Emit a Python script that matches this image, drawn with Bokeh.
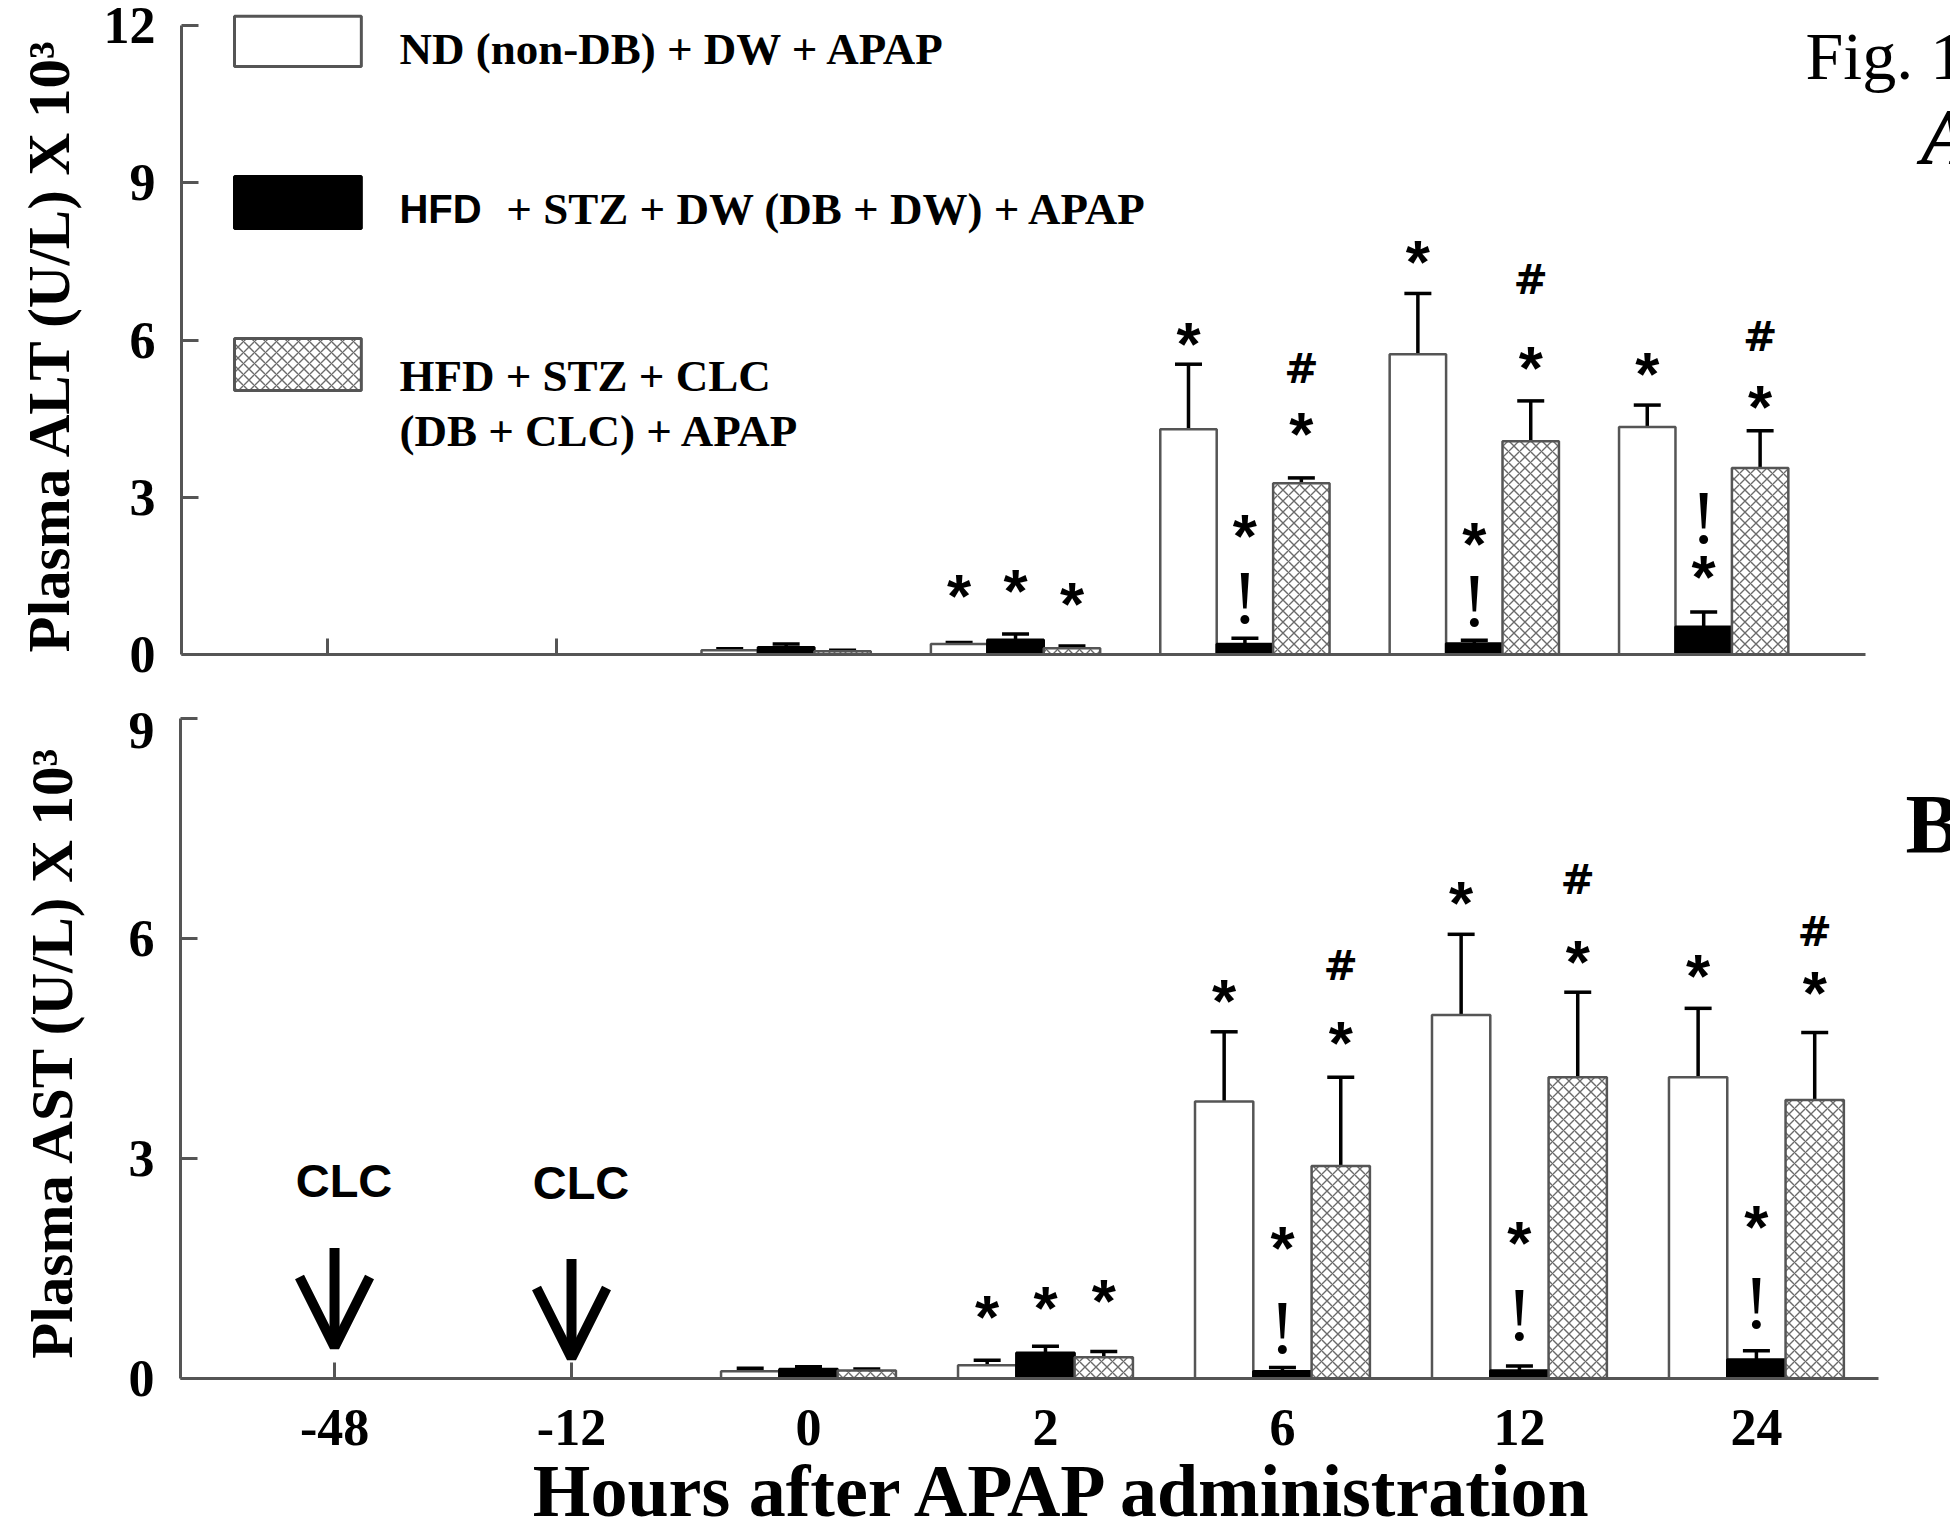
import math
from bokeh.plotting import figure
from bokeh.models import (FixedTicker, ColumnDataSource, Whisker, TeeHead, Arrow,
                          OpenHead, Range1d)
from bokeh.layouts import column, row
from bokeh.embed import file_html
from bokeh.resources import INLINE
from bokeh.core.properties import value

# ---------------- data ----------------
times = ["-48", "-12", "0", "2", "6", "12", "24"]
bar_times = ["0", "2", "6", "12", "24"]
group_labels = ["ND (non-DB) + DW + APAP",
                "HFD + STZ + DW (DB + DW) + APAP",
                "HFD + STZ + CLC (DB + CLC) + APAP"]

# Plasma ALT (U/L) x 10^3
alt_nd = [0.08, 0.20, 4.30, 5.73, 4.34]
alt_nd_err = [0.03, 0.03, 1.24, 1.16, 0.42]
alt_db = [0.14, 0.28, 0.20, 0.21, 0.53]
alt_db_err = [0.06, 0.11, 0.11, 0.06, 0.28]
alt_clc = [0.06, 0.12, 3.27, 4.07, 3.56]
alt_clc_err = [0.02, 0.04, 0.10, 0.77, 0.71]

# Plasma AST (U/L) x 10^3
ast_nd = [0.10, 0.18, 3.78, 4.96, 4.11]
ast_nd_err = [0.04, 0.07, 0.95, 1.10, 0.94]
ast_db = [0.13, 0.35, 0.10, 0.11, 0.26]
ast_db_err = [0.03, 0.09, 0.05, 0.06, 0.12]
ast_clc = [0.11, 0.29, 2.90, 4.11, 3.80]
ast_clc_err = [0.02, 0.08, 1.21, 1.16, 0.92]

# significance marks: time, group (0=ND,1=DB+DW,2=DB+CLC), symbol, height
alt_mark_time = ["2", "2", "2", "6", "6", "6", "6", "6",
                 "12", "12", "12", "12", "12", "24", "24", "24", "24", "24"]
alt_mark_group = [0, 1, 2, 0, 1, 1, 2, 2, 0, 1, 1, 2, 2, 0, 1, 1, 2, 2]
alt_mark_symbol = ["*", "*", "*", "*", "*", "!", "#", "*",
                   "*", "*", "!", "#", "*", "*", "!", "*", "#", "*"]
alt_mark_y = [1.27, 1.38, 1.13, 6.09, 2.43, 1.19, 5.48, 4.37,
              7.65, 2.27, 1.13, 7.18, 5.63, 5.52, 2.72, 1.64, 6.09, 4.89]

ast_mark_time = ["2", "2", "2", "6", "6", "6", "6", "6",
                 "12", "12", "12", "12", "12", "24", "24", "24", "24", "24"]
ast_mark_group = [0, 1, 2, 0, 1, 1, 2, 2, 0, 1, 1, 2, 2, 0, 1, 1, 2, 2]
ast_mark_symbol = ["*", "*", "*", "*", "*", "!", "#", "*",
                   "*", "*", "!", "#", "*", "*", "*", "!", "#", "*"]
ast_mark_y = [0.95, 1.08, 1.17, 5.26, 1.90, 0.77, 5.65, 4.69,
              6.60, 1.97, 0.95, 6.83, 5.80, 5.61, 2.18, 1.11, 6.12, 5.38]

clc_times = ["-48", "-12"]

# ---------------- styling ----------------
SERIF = "Liberation Serif"
SANS = "Liberation Sans"
AXIS_GRAY = "#555555"
BAR_W = 0.246
OFFSETS = [-BAR_W, 0.0, BAR_W]
TITLE_W = 100
PLOT_W = 1950 - TITLE_W

bar_styles = [
    dict(fill_color="white", line_color=AXIS_GRAY, line_width=2.5),
    dict(fill_color="black", line_color="black", line_width=2.5),
    dict(fill_color="white", line_color=AXIS_GRAY, line_width=2.5,
         hatch_pattern="x", hatch_color="#6a6a6a", hatch_scale=11, hatch_weight=1.4),
]

mark_styles = {
    "*": dict(font=SANS, style="bold", size="62px", yoff=8),
    "!": dict(font=SERIF, style="normal", size="76px", yoff=5),
    "#": dict(font="DejaVu Sans", style="bold", size="41px", yoff=2),
}


def make_panel(height, x_start, x_end, x_bound, y_end, y_top_tick, border_bottom, labelled):
    p = figure(width=PLOT_W, height=height, output_backend="svg", toolbar_location=None,
               x_range=Range1d(x_start, x_end), y_range=Range1d(0, y_end),
               min_border_left=180 - TITLE_W, min_border_right=0, min_border_top=0,
               min_border_bottom=border_bottom)
    p.outline_line_color = None
    p.grid.visible = False
    p.background_fill_color = "white"
    p.border_fill_color = "white"

    tick_idx = [times.index(t) for t in clc_times]
    major = list(range(len(times))) if labelled else []
    p.xaxis.ticker = FixedTicker(ticks=major, minor_ticks=tick_idx)
    if labelled:
        p.xaxis.major_label_overrides = {i: t for i, t in enumerate(times)}
    p.xaxis.bounds = (x_start, x_bound)
    p.yaxis.ticker = FixedTicker(ticks=list(range(0, y_top_tick + 1, 3)))
    p.yaxis.bounds = (0, y_top_tick)
    for ax in (p.xaxis, p.yaxis):
        ax.axis_line_color = AXIS_GRAY
        ax.axis_line_width = 3
        ax.major_tick_line_color = AXIS_GRAY
        ax.major_tick_line_width = 3
        ax.major_tick_out = 0
        ax.major_label_text_font = SERIF
        ax.major_label_text_font_style = "bold"
        ax.major_label_text_font_size = "52px"
        ax.major_label_text_color = "black"
        ax.axis_label_text_font = SERIF
        ax.axis_label_text_font_style = "bold"
        ax.axis_label_text_color = "black"
    # x: only the (minor) ticks at the empty -48 / -12 slots are visible
    p.xaxis.major_tick_line_color = None
    p.xaxis.major_tick_in = 0
    p.xaxis.minor_tick_line_color = AXIS_GRAY
    p.xaxis.minor_tick_line_width = 3
    p.xaxis.minor_tick_in = 16
    p.xaxis.minor_tick_out = 0
    p.yaxis.minor_tick_line_color = None
    p.yaxis.major_tick_in = 17
    p.yaxis.major_label_standoff = 26
    return p


def title_column(panel, x, y_start, text):
    """Narrow strip holding the rotated y-axis title. Its frame is aligned with the
    panel's frame, so it shares the panel's y range; the text reads upward from y_start."""
    t = figure(width=TITLE_W, height=panel.height, output_backend="svg",
               toolbar_location=None, x_range=Range1d(0, TITLE_W), y_range=panel.y_range,
               x_axis_type=None, y_axis_type=None,
               min_border_left=0, min_border_right=0, min_border_top=0,
               min_border_bottom=panel.min_border_bottom)
    t.outline_line_color = None
    t.grid.visible = False
    t.text(x=[x], y=[y_start], text=[text], angle=math.pi / 2,
           text_font=value(SERIF), text_font_style="bold", text_font_size="59px",
           text_align="left", text_baseline="middle", text_color="black")
    return t


def draw_bars(p, series, errors):
    for g, (vals, errs) in enumerate(zip(series, errors)):
        xs = [times.index(t) + OFFSETS[g] for t in bar_times]
        src = ColumnDataSource(dict(x=xs, top=vals,
                                    upper=[v + e for v, e in zip(vals, errs)],
                                    lower=[v - e for v, e in zip(vals, errs)]))
        p.vbar(x="x", top="top", bottom=0, width=BAR_W, source=src, **bar_styles[g])
        p.add_layout(Whisker(base="x", upper="upper", lower="lower", source=src,
                             dimension="height", line_color="black", line_width=3.5,
                             upper_head=TeeHead(size=27, line_width=3.5, line_color="black"),
                             lower_head=TeeHead(size=27, line_width=3.5, line_color="black")))


def draw_marks(p, m_time, m_group, m_symbol, m_y):
    for sym, st in mark_styles.items():
        idx = [i for i, s in enumerate(m_symbol) if s == sym]
        xs = [times.index(m_time[i]) + OFFSETS[m_group[i]] for i in idx]
        ys = [m_y[i] for i in idx]
        p.text(x=xs, y=ys, text=[sym] * len(idx), text_font=value(st["font"]),
               text_font_style=st["style"], text_font_size=st["size"],
               text_align="center", text_baseline="alphabetic", y_offset=st["yoff"],
               text_color="black")


# ---------------- panel A : ALT ----------------
HA = 712
pA = make_panel(HA, -0.636, 7.076, 6.706, 12.481, 12, 58, labelled=False)
draw_bars(pA, [alt_nd, alt_db, alt_clc], [alt_nd_err, alt_db_err, alt_clc_err])
draw_marks(pA, alt_mark_time, alt_mark_group, alt_mark_symbol, alt_mark_y)
tA = title_column(pA, 48, 0.04, "Plasma ALT (U/L) X 10\u00b3")

# legend (manual, as in the original figure)
leg_left, leg_right = -0.405, 0.148
leg_boxes = [(12.18, 11.22), (9.12, 8.13), (6.03, 5.04)]
for g, (top, bot) in enumerate(leg_boxes):
    sty = dict(bar_styles[g])
    sty["line_width"] = 3
    pA.quad(left=[leg_left], right=[leg_right], top=[top], bottom=[bot], **sty)
txt_x = 0.314
lt = dict(text_font=value(SERIF), text_font_style="bold", text_font_size="45px",
          text_align="left", text_baseline="middle", text_color="black")
pA.text(x=[txt_x], y=[11.56], text=[group_labels[0]], **lt)
pA.text(x=[txt_x], y=[8.51], text=["HFD"], text_font=value(SANS), text_font_style="bold",
        text_font_size="40px", text_align="left", text_baseline="middle", text_color="black")
pA.text(x=[0.780], y=[8.51], text=["+ STZ + DW (DB + DW) + APAP"], **lt)
pA.text(x=[txt_x, txt_x], y=[5.32, 4.26], text=["HFD + STZ + CLC", "(DB + CLC) + APAP"], **lt)

pA.text(x=[6.444], y=[11.43], text=["Fig. 1"], text_font=value(SERIF), text_font_size="68px",
        text_align="left", text_baseline="alphabetic", text_color="black")
pA.text(x=[6.946], y=[9.87], text=["A"], text_font=value(SERIF), text_font_style="bold italic",
        text_font_size="80px", text_align="left", text_baseline="alphabetic", text_color="black")

# ---------------- panel B : AST ----------------
HB = 1535 - HA
pB = make_panel(HB, -0.650, 6.819, 6.515, 9.086, 9, 157, labelled=True)
pB.xaxis.major_label_standoff = 31
pB.xaxis.axis_label = "Hours after APAP administration"
pB.xaxis.axis_label_text_font_size = "74px"
pB.xaxis.axis_label_standoff = 2
draw_bars(pB, [ast_nd, ast_db, ast_clc], [ast_nd_err, ast_db_err, ast_clc_err])
draw_marks(pB, ast_mark_time, ast_mark_group, ast_mark_symbol, ast_mark_y)
tB = title_column(pB, 51, 0.27, "Plasma AST (U/L) X 10\u00b3")

clc_x = [times.index(t) for t in clc_times]
pB.text(x=[x + 0.04 for x in clc_x], y=[2.70, 2.68], text=["CLC", "CLC"],
        text_font=value(SANS), text_font_style="bold", text_font_size="47px",
        text_align="center", text_baseline="middle", text_color="black")
for x, y0, y1 in zip(clc_x, [1.78, 1.63], [0.43, 0.28]):
    pB.add_layout(Arrow(x_start=x, y_start=y0, x_end=x, y_end=y1, line_width=10,
                        line_color="black",
                        end=OpenHead(size=70, line_width=10, line_color="black")))

pB.text(x=[6.629], y=[7.56], text=["B"], text_font=value(SERIF), text_font_style="bold",
        text_font_size="84px", text_align="left", text_baseline="alphabetic", text_color="black")

layout = column(row(tA, pA, spacing=0), row(tB, pB, spacing=0), spacing=0)
open("out.html", "w").write(file_html(layout, INLINE))
